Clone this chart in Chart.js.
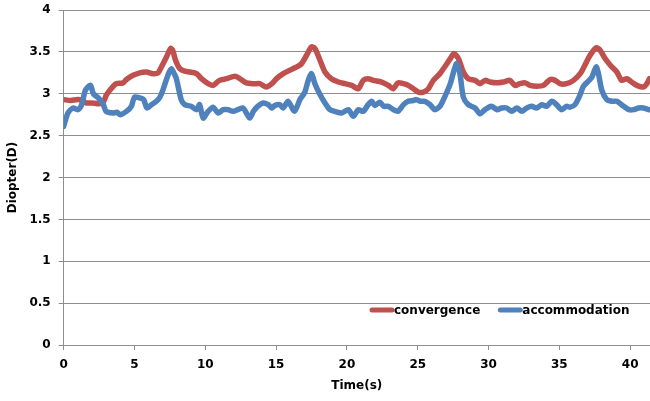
<!DOCTYPE html>
<html>
<head>
<meta charset="utf-8">
<script src="https://cdn.jsdelivr.net/npm/chart.js@4.4.1/dist/chart.umd.min.js"></script>
<style>
  html, body { margin: 0; padding: 0; background: #ffffff; }
  #wrap { width: 650px; height: 401px; position: relative; }
</style>
</head>
<body>
<div id="wrap"><canvas id="c" width="650" height="401"></canvas></div>
<script>
// ---- data (time in s, value in diopters) ----
const convergenceT = [0.0,0.5,1.0,1.3,1.6,2.0,2.5,2.8,3.0,3.25,3.5,3.72,4.19,4.43,4.9,5.37,5.84,6.31,6.67,6.9,7.26,7.55,7.7,7.9,8.2,8.55,8.9,9.38,9.73,10.2,10.55,11.0,11.5,12.1,12.44,12.9,13.4,13.85,14.3,14.7,15.03,15.5,15.97,16.45,16.8,17.15,17.5,17.74,18.1,18.45,18.9,19.4,19.86,20.33,20.8,21.15,21.5,21.86,22.45,22.92,23.27,23.6,24.0,24.33,24.69,25.04,25.4,25.75,26.1,26.57,26.9,27.3,27.56,27.87,28.22,28.57,29.05,29.4,29.75,30.1,30.6,31.05,31.5,31.87,32.2,32.58,32.93,33.4,33.87,34.35,34.7,35.05,35.5,36.0,36.47,36.8,37.17,37.6,37.88,38.23,38.6,39.06,39.4,39.77,40.1,40.47,40.94,41.18,41.36];
const convergenceD = [2.93,2.92,2.93,2.92,2.89,2.89,2.88,2.90,2.98,3.04,3.09,3.12,3.13,3.17,3.22,3.25,3.26,3.24,3.25,3.32,3.44,3.54,3.52,3.40,3.30,3.27,3.26,3.24,3.18,3.12,3.10,3.16,3.18,3.21,3.18,3.13,3.12,3.12,3.08,3.12,3.18,3.24,3.28,3.32,3.36,3.46,3.56,3.54,3.40,3.26,3.18,3.14,3.12,3.10,3.06,3.16,3.18,3.16,3.14,3.10,3.06,3.13,3.12,3.10,3.06,3.02,3.02,3.06,3.16,3.24,3.32,3.42,3.48,3.42,3.26,3.18,3.16,3.12,3.16,3.14,3.13,3.14,3.16,3.10,3.12,3.13,3.10,3.09,3.10,3.17,3.16,3.12,3.12,3.16,3.24,3.34,3.46,3.55,3.52,3.42,3.34,3.26,3.16,3.18,3.14,3.10,3.08,3.12,3.18];

const accommodationT = [0.0,0.3,0.66,1.0,1.25,1.49,1.6,1.9,2.1,2.45,2.8,3.0,3.5,3.75,4.0,4.43,4.78,5.0,5.37,5.65,5.88,6.2,6.55,6.8,7.0,7.4,7.61,7.8,7.96,8.3,8.55,9.0,9.38,9.6,9.85,10.2,10.55,10.9,11.26,11.6,11.96,12.3,12.67,12.9,13.15,13.4,13.7,14.08,14.44,14.7,14.9,15.26,15.5,15.85,16.3,16.68,17.03,17.27,17.5,17.74,18.1,18.45,18.8,19.15,19.63,20.1,20.45,20.8,21.15,21.5,21.75,21.98,22.33,22.6,22.92,23.27,23.6,24.0,24.33,24.69,24.9,25.2,25.5,25.87,26.2,26.57,26.9,27.3,27.56,27.75,27.98,28.22,28.57,29.05,29.4,29.75,30.2,30.6,30.93,31.28,31.64,32.0,32.35,32.7,33.05,33.4,33.76,34.1,34.47,34.8,35.17,35.5,35.76,36.1,36.47,36.7,37.05,37.3,37.6,37.76,38.0,38.35,38.7,39.06,39.54,39.9,40.24,40.6,40.94,41.3];
const accommodationD = [2.61,2.77,2.83,2.81,2.86,3.02,3.06,3.10,3.00,2.95,2.87,2.79,2.77,2.78,2.75,2.79,2.85,2.96,2.95,2.93,2.83,2.87,2.91,2.96,3.04,3.24,3.30,3.24,3.18,2.93,2.87,2.85,2.81,2.87,2.71,2.79,2.84,2.77,2.81,2.81,2.79,2.81,2.83,2.77,2.71,2.79,2.85,2.89,2.87,2.83,2.86,2.87,2.83,2.91,2.79,2.93,3.02,3.16,3.24,3.12,2.99,2.89,2.81,2.79,2.77,2.81,2.73,2.81,2.79,2.87,2.91,2.86,2.90,2.85,2.85,2.81,2.79,2.87,2.91,2.92,2.93,2.91,2.91,2.87,2.81,2.85,2.96,3.12,3.28,3.36,3.24,2.96,2.87,2.83,2.76,2.81,2.85,2.81,2.83,2.83,2.79,2.83,2.79,2.83,2.85,2.83,2.87,2.85,2.91,2.87,2.81,2.85,2.84,2.87,2.99,3.09,3.15,3.20,3.32,3.24,3.04,2.93,2.91,2.91,2.85,2.81,2.81,2.83,2.83,2.81];

const seriesLabels = ['convergence', 'accommodation'];
const seriesColors = ['#C0504D', '#4F81BD'];
const xTitle = 'Time(s)';
const yTitle = 'Diopter(D)';

const toPoints = (ts, vs) => ts.map((t, i) => ({ x: t, y: vs[i] }));

const FONT = '"DejaVu Sans", sans-serif';
const GRID = '#8e8e8e';

const insideLegend = {
  id: 'insideLegend',
  afterDraw(chart) {
    const { ctx, chartArea } = chart;
    ctx.save();
    ctx.font = 'bold 12px ' + FONT;
    ctx.textBaseline = 'middle';
    ctx.textAlign = 'left';
    let x = chartArea.right - 280;
    const y = chartArea.bottom - 35;
    chart.data.datasets.forEach(ds => {
      ctx.strokeStyle = ds.borderColor;
      ctx.lineWidth = 5;
      ctx.lineCap = 'round';
      ctx.beginPath();
      ctx.moveTo(x + 2, y);
      ctx.lineTo(x + 22, y);
      ctx.stroke();
      ctx.fillStyle = '#000';
      ctx.fillText(ds.label, x + 24, y + 0.5);
      x += 24 + ctx.measureText(ds.label).width + 18;
    });
    ctx.restore();
  }
};

new Chart(document.getElementById('c'), {
  type: 'line',
  data: {
    datasets: [
      {
        label: seriesLabels[0],
        data: toPoints(convergenceT, convergenceD),
        borderColor: seriesColors[0],
        backgroundColor: seriesColors[0],
        borderWidth: 5.5,
        pointRadius: 0,
        tension: 0.25,
        borderCapStyle: 'round',
        borderJoinStyle: 'round',
        order: 1
      },
      {
        label: seriesLabels[1],
        data: toPoints(accommodationT, accommodationD),
        borderColor: seriesColors[1],
        backgroundColor: seriesColors[1],
        borderWidth: 5.5,
        pointRadius: 0,
        tension: 0.25,
        borderCapStyle: 'round',
        borderJoinStyle: 'round',
        order: 0
      }
    ]
  },
  options: {
    responsive: false,
    animation: false,
    layout: { padding: { left: 2, right: 0, top: 0, bottom: 9 } },
    plugins: {
      legend: { display: false },
      tooltip: { enabled: false }
    },
    scales: {
      x: {
        type: 'linear',
        min: 0,
        max: 41.4,
        ticks: {
          stepSize: 5,
          includeBounds: false,
          padding: 9,
          color: '#000',
          font: { family: FONT, size: 12, weight: 'bold', lineHeight: 1 },
          maxRotation: 0
        },
        grid: { drawOnChartArea: false, drawTicks: true, tickLength: 5, color: GRID },
        border: { display: true, color: GRID },
        title: {
          display: true,
          text: xTitle,
          color: '#000',
          font: { family: FONT, size: 12, weight: 'bold', lineHeight: 1 },
          padding: { top: 0, bottom: 0 }
        }
      },
      y: {
        min: 0,
        max: 4,
        afterFit: s => { s.paddingTop = 10; },
        ticks: {
          stepSize: 0.5,
          padding: 8,
          color: '#000',
          font: { family: FONT, size: 12, weight: 'bold' },
          callback: v => String(v)
        },
        grid: { drawOnChartArea: true, drawTicks: true, tickLength: 5, color: GRID },
        border: { display: true, color: GRID },
        title: {
          display: true,
          text: yTitle,
          color: '#000',
          font: { family: FONT, size: 12, weight: 'bold', lineHeight: 1 },
          padding: { top: 5, bottom: 2.4 }
        }
      }
    }
  },
  plugins: [insideLegend]
});
</script>
</body>
</html>
